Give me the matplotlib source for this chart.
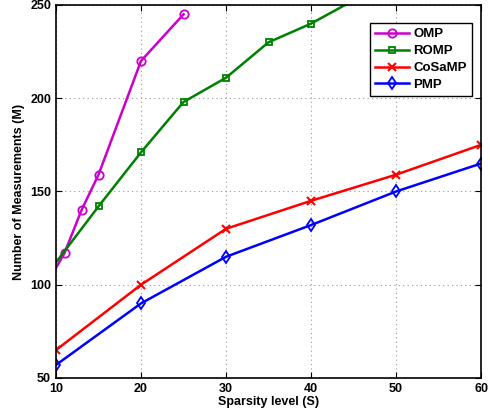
import matplotlib
matplotlib.use('Agg')
import matplotlib.pyplot as plt

plt.rcParams['font.family'] = ['Liberation Sans', 'DejaVu Sans']
plt.rcParams['font.weight'] = 'bold'

# data (first OMP/ROMP points lie left of the axis)
omp_x = [5, 11, 13, 15, 20, 25]
omp_y = [69, 117, 140, 159, 220, 245]
romp_x = [5, 15, 20, 25, 30, 35, 40, 50]
romp_y = [82, 142, 171, 198, 211, 230, 240, 265]
cosamp_x = [10, 20, 30, 40, 50, 60]
cosamp_y = [65, 100, 130, 145, 159, 175]
pmp_x = [10, 20, 30, 40, 50, 60]
pmp_y = [57, 90, 115, 132, 150, 165]

fig = plt.figure(figsize=(4.9, 4.18), dpi=100)
ax = fig.add_axes([56 / 490, 40 / 418, 425 / 490, 373 / 418])

ax.plot(omp_x, omp_y, color='#cc00cc', marker='o', ms=6, mfc='none', mew=1.3, lw=1.8, label='OMP')
ax.plot(romp_x, romp_y, color='#008000', marker='s', ms=5, mfc='none', mew=1.3, lw=1.8, label='ROMP')
ax.plot(cosamp_x, cosamp_y, color='#ff0000', marker='x', ms=6, mew=1.5, lw=1.8, label='CoSaMP')
ax.plot(pmp_x, pmp_y, color='#0000ff', marker='d', ms=6, mfc='none', mew=1.3, lw=1.8, label='PMP')

ax.set_xlim(10, 60)
ax.set_ylim(50, 250)
ax.set_xticks([10, 20, 30, 40, 50, 60])
ax.set_yticks([50, 100, 150, 200, 250])
ax.grid(True, color='#999999', linestyle=(0, (1, 3)), lw=0.8)
ax.tick_params(direction='in', top=True, right=True, labelsize=9, length=4, width=0.8)
for lab in ax.get_xticklabels() + ax.get_yticklabels():
    lab.set_fontweight('bold')
for s in ax.spines.values():
    s.set_linewidth(1.2)

ax.set_xlabel('Sparsity level (S)', fontsize=9, fontweight='bold', labelpad=1)
ax.set_ylabel('Number of Measurements (M)', fontsize=9, fontweight='bold', labelpad=4)

leg = ax.legend(loc='upper right', bbox_to_anchor=(0.979, 0.952), borderaxespad=0, fontsize=9.5,
                fancybox=False, edgecolor='black', framealpha=1, handlelength=2.6, borderpad=0.4,
                labelspacing=0.35, handletextpad=0.3)
leg.get_frame().set_linewidth(1.0)
for t in leg.get_texts():
    t.set_fontweight('bold')

fig.savefig('out.png', dpi=100)
